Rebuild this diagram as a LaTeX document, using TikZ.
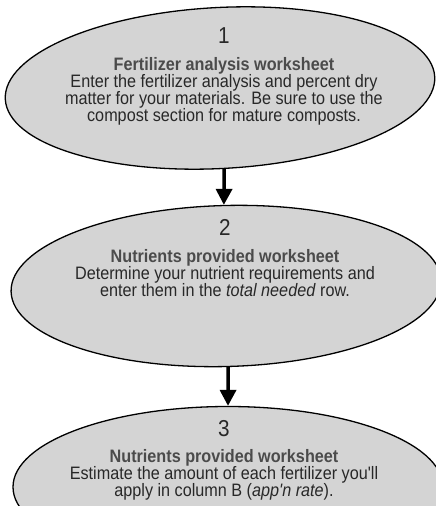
\documentclass[tikz,border=0pt]{standalone}
\usepackage{fontspec}
\newfontfamily\stepfont{Liberation Sans}[FakeStretch=0.9]
\usetikzlibrary{shapes.geometric,arrows.meta}
\definecolor{stepFill}{RGB}{212,212,212}
\definecolor{stepInk}{RGB}{40,40,40}
\definecolor{stepHead}{RGB}{75,75,75}
\newcommand\stepnum[1]{{\fontsize{23}{23}\selectfont #1}}
\newcommand\stephead[1]{{\bfseries\color{stepHead}#1}}

\begin{document}
\begin{tikzpicture}[x=1pt, y=-1pt,
 stepshape/.style={ellipse, draw=black, line width=1.3pt, fill=stepFill, minimum width=430pt, minimum height=161pt, inner sep=0pt},
 steptext/.style={anchor=north, align=center, text=stepInk, inner sep=0pt, font=\stepfont\fontsize{18}{17}\selectfont},
 flowarrow/.style={line width=3.5pt, -{Triangle[width=16pt,length=16pt]}}]
	\useasboundingbox (0,0) rectangle (436,506);
	\clip (0,0) rectangle (436,506);
 	\node[stepshape, rotate=3] (s1) at (220,88) {};
 	\node[stepshape, rotate=1.5] (s2) at (226,286) {};
 	\node[stepshape] (s3) at (228,487) {};
	\node[steptext] (t1) at (224,27) {\stepnum{1}\\[10pt] \stephead{Fertilizer analysis worksheet}\\ Enter the fertilizer analysis and percent dry\\ matter for your materials. Be sure to use the\\ compost section for mature composts.};
	\node[steptext] (t2) at (225,219) {\stepnum{2}\\[10pt] \stephead{Nutrients provided worksheet}\\ Determine your nutrient requirements and\\ enter them in the \textit{total needed} row.};
	\node[steptext] (t3) at (224,420) {\stepnum{3}\\[9pt] \stephead{Nutrients provided worksheet}\\ Estimate the amount of each fertilizer you'll\\ apply in column B (\textit{app'n rate}).};
	\draw[flowarrow] (s1.south) -- (s2.north);
	\draw[flowarrow] (s2.south) -- (s3.north);
\end{tikzpicture}
\end{document}
